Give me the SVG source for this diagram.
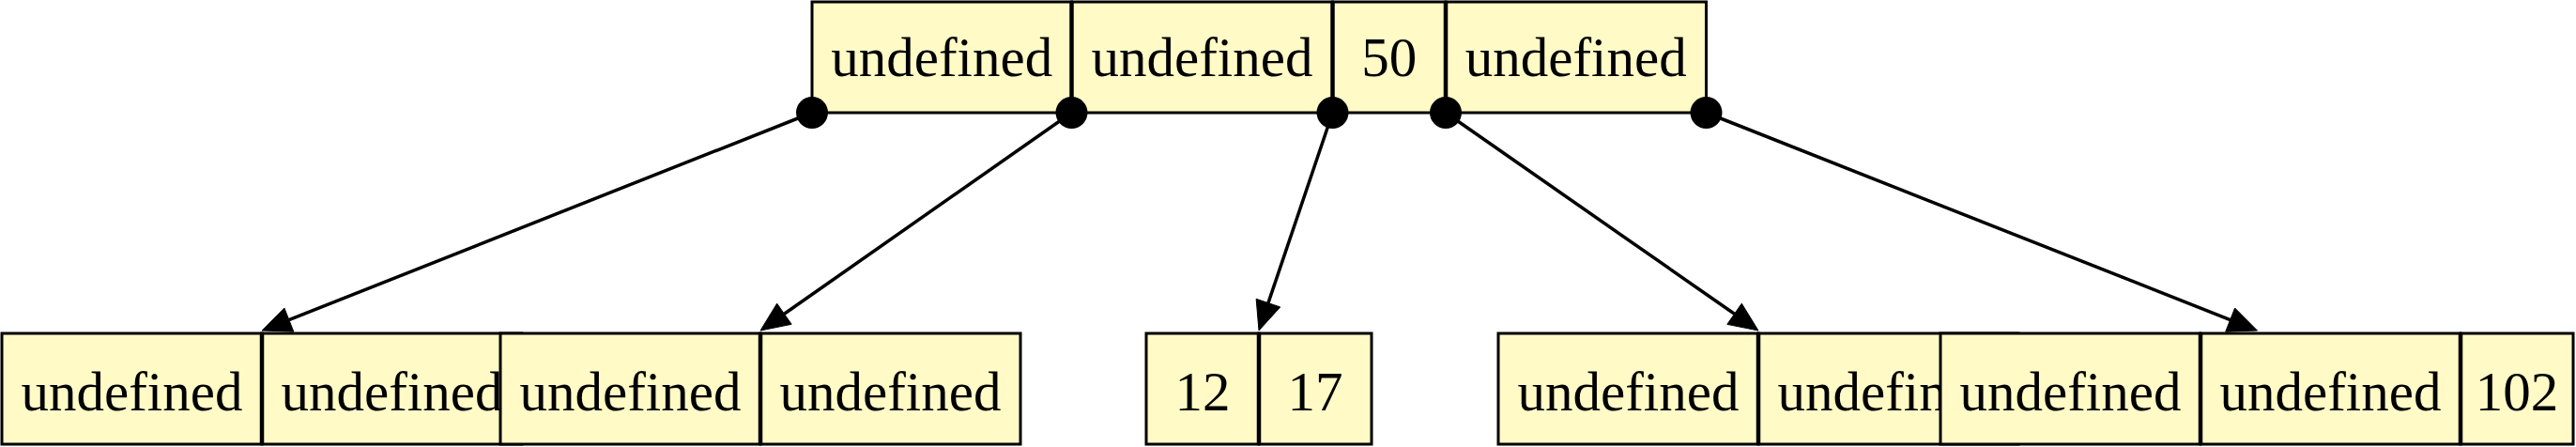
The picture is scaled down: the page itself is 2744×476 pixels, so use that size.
<svg xmlns="http://www.w3.org/2000/svg" width="2744" height="476" viewBox="0 0 2744 476">
<style>
.cell{fill:#fffac6;stroke:#000;stroke-width:3}
.div{stroke:#000;stroke-width:4.5}
.t{font-family:"Liberation Serif","DejaVu Serif",serif;font-size:59px;fill:#000;text-anchor:middle}
.e{stroke:#000;stroke-width:3.5;fill:none}
.dot{fill:#000}
.ah{fill:#000;stroke:#000;stroke-width:1}
</style>
<rect width="2744" height="476" fill="#fff"/>
<g id="root">
<rect class="cell" x="865" y="2" width="276.5" height="118"/>
<rect class="cell" x="1141.5" y="2" width="278" height="118"/>
<rect class="cell" x="1419.5" y="2" width="120.5" height="118"/>
<rect class="cell" x="1540" y="2" width="277.5" height="118"/>
<line class="div" x1="1141.5" y1="2" x2="1141.5" y2="120"/>
<line class="div" x1="1419.5" y1="2" x2="1419.5" y2="120"/>
<line class="div" x1="1540" y1="2" x2="1540" y2="120"/>
<text class="t" x="1003.25" y="81">undefined</text>
<text class="t" x="1280.5" y="81">undefined</text>
<text class="t" x="1479.75" y="81">50</text>
<text class="t" x="1678.75" y="81">undefined</text>
</g>
<g id="nodeA">
<rect class="cell" x="2" y="355" width="277" height="118"/>
<rect class="cell" x="279" y="355" width="277" height="118"/>
<line class="div" x1="279" y1="355" x2="279" y2="473"/>
<text class="t" x="140.5" y="437">undefined</text>
<text class="t" x="417.5" y="437">undefined</text>
</g>
<g id="nodeB">
<rect class="cell" x="533" y="355" width="277" height="118"/>
<rect class="cell" x="810" y="355" width="277" height="118"/>
<line class="div" x1="810" y1="355" x2="810" y2="473"/>
<text class="t" x="671.5" y="437">undefined</text>
<text class="t" x="948.5" y="437">undefined</text>
</g>
<g id="nodeC">
<rect class="cell" x="1221" y="355" width="120" height="118"/>
<rect class="cell" x="1341" y="355" width="120" height="118"/>
<line class="div" x1="1341" y1="355" x2="1341" y2="473"/>
<text class="t" x="1281" y="437">12</text>
<text class="t" x="1401" y="437">17</text>
</g>
<g id="nodeD">
<rect class="cell" x="1596" y="355" width="277" height="118"/>
<rect class="cell" x="1873" y="355" width="277" height="118"/>
<line class="div" x1="1873" y1="355" x2="1873" y2="473"/>
<text class="t" x="1734.5" y="437">undefined</text>
<text class="t" x="2011.5" y="437">undefined</text>
</g>
<g id="nodeE">
<rect class="cell" x="2067" y="355" width="277" height="118"/>
<rect class="cell" x="2344" y="355" width="277" height="118"/>
<rect class="cell" x="2621" y="355" width="120" height="118"/>
<line class="div" x1="2344" y1="355" x2="2344" y2="473"/>
<line class="div" x1="2621" y1="355" x2="2621" y2="473"/>
<text class="t" x="2205.5" y="437">undefined</text>
<text class="t" x="2482.5" y="437">undefined</text>
<text class="t" x="2681" y="437">102</text>
</g>
<g id="edges">
<line class="e" x1="865" y1="120" x2="307.82" y2="340.59"/>
<polygon class="ah" points="279,352 302.85,328.04 312.79,353.14"/>
<circle class="dot" cx="865" cy="120" r="17"/>
<line class="e" x1="1141.5" y1="120" x2="835.4" y2="334.23"/>
<polygon class="ah" points="810,352 827.66,323.17 843.14,345.29"/>
<circle class="dot" cx="1141.5" cy="120" r="17"/>
<line class="e" x1="1419.5" y1="120" x2="1350.94" y2="322.64"/>
<polygon class="ah" points="1341,352 1338.15,318.31 1363.73,326.97"/>
<circle class="dot" cx="1419.5" cy="120" r="17"/>
<line class="e" x1="1540" y1="120" x2="1847.56" y2="334.28"/>
<polygon class="ah" points="1873,352 1839.84,345.36 1855.28,323.2"/>
<circle class="dot" cx="1540" cy="120" r="17"/>
<line class="e" x1="1817.5" y1="120" x2="2375.67" y2="340.61"/>
<polygon class="ah" points="2404.5,352 2370.71,353.17 2380.63,328.05"/>
<circle class="dot" cx="1817.5" cy="120" r="17"/>
</g>
</svg>
